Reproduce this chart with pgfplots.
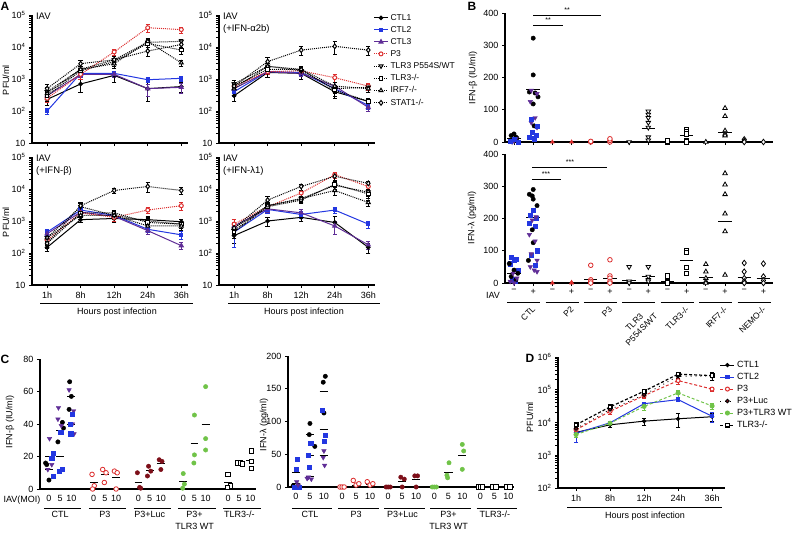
\documentclass[border=0pt]{standalone}
\usepackage{fontspec}
\setmainfont{Liberation Sans}
\setsansfont{Liberation Sans}
\usepackage{pgfplots}
\usepackage{pgfplotstable}
\pgfplotsset{compat=1.18}
\pgfkeys{/pgf/number format/assume math mode=true}

\definecolor{cblue}{RGB}{35,55,225}
\definecolor{cpurple}{RGB}{95,45,150}
\definecolor{cred}{RGB}{220,45,45}
\definecolor{cdred}{RGB}{125,15,25}
\definecolor{cgreen}{RGB}{112,195,72}

\newcommand{\fs}{\fontsize{9}{11}\selectfont}

\pgfplotsset{
  sCa/.style={black, line width=1pt, mark=*, mark size=1.8pt},
  sCb/.style={cblue, line width=1pt, mark=square*, mark size=1.7pt},
  sCc/.style={cpurple, line width=1pt, mark=triangle*, mark size=2.3pt},
  sP3/.style={cred, line width=1pt, densely dotted, mark=*, mark size=2pt, mark options={solid, fill=white}},
  sTP/.style={black, line width=1pt, densely dotted, mark=triangle*, mark size=2.3pt, mark options={solid, fill=white, rotate=180}},
  sTK/.style={black, line width=1pt, densely dotted, mark=square*, mark size=1.8pt, mark options={solid, fill=white}},
  sIR/.style={black, line width=1pt, densely dotted, mark=triangle*, mark size=2.3pt, mark options={solid, fill=white}},
  sST/.style={black, line width=1pt, densely dotted, mark=diamond*, mark size=2.4pt, mark options={solid, fill=white}},
  mBk/.style={only marks, black, mark=*, mark size=2.2pt},
  mBb/.style={only marks, cblue, mark=square*, mark size=2.1pt},
  mBp/.style={only marks, cpurple, mark=triangle*, mark size=2.6pt, mark options={rotate=180}},
  mRo/.style={only marks, cred, mark=*, mark size=2.3pt, mark options={fill=white, line width=0.8pt}},
  mRt/.style={only marks, cred, mark=triangle*, mark size=2.3pt},
  mTd/.style={only marks, black, mark=triangle*, mark size=2.6pt, mark options={fill=white, rotate=180, line width=0.8pt}},
  mSq/.style={only marks, black, mark=square*, mark size=2.2pt, mark options={fill=white, line width=0.8pt}},
  mTu/.style={only marks, black, mark=triangle*, mark size=2.6pt, mark options={fill=white, line width=0.8pt}},
  mDi/.style={only marks, black, mark=diamond*, mark size=2.8pt, mark options={fill=white, line width=0.8pt}},
  mDR/.style={only marks, cdred, mark=*, mark size=2.2pt},
  mG/.style={only marks, cgreen, mark=*, mark size=2.2pt},
  mean/.style={black, line width=0.8pt, no marks, unbounded coords=jump},
}

\pgfplotstableread{
x c1 e1 c2 e2 c3 e3 p3 ep tp etp tk etk ir eir st est
1 230 80 100 20 300 100 250 60 400 150 300 100 350 100 500 200
2 700 300 1500 300 1400 300 1400 400 2000 500 1800 400 2000 500 3000 800
3 1300 500 1500 300 1400 300 7000 1500 4000 1000 3500 1000 3000 800 4000 1000
4 500 300 950 150 500 200 40000 10000 14000 3000 13000 3000 15000 4000 7500 2500
5 580 200 1050 200 550 200 35000 8000 15000 3000 8000 2000 3200 600 12000 3000
}\tabAa
\pgfplotstableread{
x c1 e1 c2 e2 c3 e3 p3 ep tp etp tk etk ir eir st est
1 300 100 400 100 500 150 600 200 700 200 600 200 500 150 600 200
2 1600 500 1700 300 1700 300 1700 300 2500 700 2000 500 2500 600 3500 1200
3 1500 500 1600 300 1500 300 1800 400 1800 400 2000 500 2000 500 8000 2500
4 400 150 500 150 600 200 1100 300 500 150 450 150 600 200 10500 4500
5 200 60 150 40 130 30 600 150 550 150 200 60 500 100 8000 2500
}\tabAb
\pgfplotstableread{
x c1 e1 c2 e2 c3 e3 p3 ep tp etp tk etk ir eir st est
1 150 40 450 100 400 100 250 80 300 100 200 60 300 100 200 60
2 1100 200 2200 500 1900 400 1800 400 2800 900 1800 400 1500 400 3000 900
3 1200 300 1500 300 1400 300 1300 300 1500 400 1800 400 1500 400 9000 1500
4 1100 300 550 100 500 100 2200 500 1000 300 900 300 700 200 12000 4000
5 950 200 370 100 170 40 3000 800 800 200 800 200 700 200 9000 2000
}\tabAc
\pgfplotstableread{
x c1 e1 c2 e2 c3 e3 p3 ep tp etp tk etk ir eir st est
1 350 150 450 300 700 400 800 300 500 150 450 150 600 200 600 200
2 1000 300 2300 500 2400 500 2800 600 3000 800 2800 700 3000 800 4500 1500
3 1300 300 1600 400 1800 500 7500 2000 5000 1000 4500 1000 5000 1000 12000 2500
4 900 500 2200 500 700 300 28000 6000 13000 4000 14000 4000 9000 2500 25000 6000
5 150 50 800 200 180 50 12000 3000 8000 2000 7000 2000 3800 800 15000 3000
}\tabAd
\pgfplotstableread{
x c1 e1 c2 e2 p3 ep lu elu tw etw tk etk
1 5000 1000 4700 2200 6000 1000 6500 1200 4300 800 8500 1500
2 8500 1500 9800 1000 22000 4000 25000 5000 9500 1500 30000 6000
3 11000 2500 37500 5000 66000 10000 70000 10000 31000 8000 90000 15000
4 13000 6000 50000 6000 190000 40000 260000 40000 80000 20000 300000 40000
5 15000 4000 15500 5000 105000 15000 260000 60000 32000 6000 270000 80000
}\tabD

\newcommand{\Aplots}[1]{%
  \addplot[sCa, error bars/.cd, y dir=both, y explicit, error bar style={solid, line width=0.7pt}, error mark options={solid, rotate=90, mark size=2.2pt}] table[x=x,y=c1,y error=e1]{#1};
  \addplot[sCb, error bars/.cd, y dir=both, y explicit, error bar style={solid, line width=0.7pt}, error mark options={solid, rotate=90, mark size=2.2pt}] table[x=x,y=c2,y error=e2]{#1};
  \addplot[sCc, error bars/.cd, y dir=both, y explicit, error bar style={solid, line width=0.7pt}, error mark options={solid, rotate=90, mark size=2.2pt}] table[x=x,y=c3,y error=e3]{#1};
  \addplot[sP3, error bars/.cd, y dir=both, y explicit, error bar style={solid, line width=0.7pt}, error mark options={solid, rotate=90, mark size=2.2pt}] table[x=x,y=p3,y error=ep]{#1};
  \addplot[sTP, error bars/.cd, y dir=both, y explicit, error bar style={solid, line width=0.7pt}, error mark options={solid, rotate=90, mark size=2.2pt}] table[x=x,y=tp,y error=etp]{#1};
  \addplot[sTK, error bars/.cd, y dir=both, y explicit, error bar style={solid, line width=0.7pt}, error mark options={solid, rotate=90, mark size=2.2pt}] table[x=x,y=tk,y error=etk]{#1};
  \addplot[sIR, error bars/.cd, y dir=both, y explicit, error bar style={solid, line width=0.7pt}, error mark options={solid, rotate=90, mark size=2.2pt}] table[x=x,y=ir,y error=eir]{#1};
  \addplot[sST, error bars/.cd, y dir=both, y explicit, error bar style={solid, line width=0.7pt}, error mark options={solid, rotate=90, mark size=2.2pt}] table[x=x,y=st,y error=est]{#1};
}

\begin{document}
\begin{tikzpicture}
\useasboundingbox (0,0) rectangle (792pt,-533pt);

% ---------------- Panel A ----------------
\begin{axis}[at={(32pt,-15pt)}, anchor=north west, xticklabels={},
  scale only axis, axis lines*=left, tick align=outside, axis line style={line width=1.1pt},
  major tick length=3pt, tick style={black, line width=0.9pt}, tick label style={font=\fs}, clip=false,
  ymode=log, ymin=10, ymax=100000, xmin=0.55, xmax=5.2, width=156pt, height=128pt,
  xtick={1,2,3,4,5}, ytick={10,100,1000,10000,100000}, minor ytick={},
  yticklabels={10,10\textsuperscript{2},10\textsuperscript{3},10\textsuperscript{4},10\textsuperscript{5}}]
\Aplots{\tabAa}
\node[anchor=north west, align=left, inner sep=0pt, font=\fontsize{9.5}{12}\selectfont] at (rel axis cs:0.025,1.02) {IAV};
\end{axis}

\begin{axis}[at={(219pt,-15pt)}, anchor=north west, xticklabels={},
  scale only axis, axis lines*=left, tick align=outside, axis line style={line width=1.1pt},
  major tick length=3pt, tick style={black, line width=0.9pt}, tick label style={font=\fs}, clip=false,
  ymode=log, ymin=10, ymax=100000, xmin=0.55, xmax=5.2, width=156pt, height=128pt,
  xtick={1,2,3,4,5}, ytick={10,100,1000,10000,100000}, minor ytick={},
  yticklabels={10,10\textsuperscript{2},10\textsuperscript{3},10\textsuperscript{4},10\textsuperscript{5}},
  legend style={at={(0.97,1.04)}, anchor=north west, draw=none, fill=none,
    font=\fontsize{8.5}{10}\selectfont, row sep=0.6pt},
  legend cell align=left,
  legend image code/.code={\draw[mark repeat=2,mark phase=2,#1] plot coordinates {(0pt,0pt) (7pt,0pt) (14pt,0pt)};}]
\Aplots{\tabAb}
\legend{CTL1,CTL2,CTL3,P3,TLR3 P554S/WT,TLR3-/-,IRF7-/-,STAT1-/-}
\node[anchor=north west, align=left, inner sep=0pt, font=\fontsize{9.5}{12}\selectfont] at (rel axis cs:0.025,1.02) {IAV\\(+IFN-α2b)};
\end{axis}

\begin{axis}[at={(32pt,-157pt)}, anchor=north west, xticklabels={1h,8h,12h,24h,36h},
  scale only axis, axis lines*=left, tick align=outside, axis line style={line width=1.1pt},
  major tick length=3pt, tick style={black, line width=0.9pt}, tick label style={font=\fs}, clip=false,
  ymode=log, ymin=10, ymax=100000, xmin=0.55, xmax=5.2, width=156pt, height=128pt,
  xtick={1,2,3,4,5}, ytick={10,100,1000,10000,100000}, minor ytick={},
  yticklabels={10,10\textsuperscript{2},10\textsuperscript{3},10\textsuperscript{4},10\textsuperscript{5}}]
\Aplots{\tabAc}
\node[anchor=north west, align=left, inner sep=0pt, font=\fontsize{9.5}{12}\selectfont] at (rel axis cs:0.025,1.02) {IAV\\(+IFN-β)};
\end{axis}

\begin{axis}[at={(219pt,-157pt)}, anchor=north west, xticklabels={1h,8h,12h,24h,36h},
  scale only axis, axis lines*=left, tick align=outside, axis line style={line width=1.1pt},
  major tick length=3pt, tick style={black, line width=0.9pt}, tick label style={font=\fs}, clip=false,
  ymode=log, ymin=10, ymax=100000, xmin=0.55, xmax=5.2, width=156pt, height=128pt,
  xtick={1,2,3,4,5}, ytick={10,100,1000,10000,100000}, minor ytick={},
  yticklabels={10,10\textsuperscript{2},10\textsuperscript{3},10\textsuperscript{4},10\textsuperscript{5}}]
\Aplots{\tabAd}
\node[anchor=north west, align=left, inner sep=0pt, font=\fontsize{9.5}{12}\selectfont] at (rel axis cs:0.025,1.02) {IAV\\(+IFN-λ1)};
\end{axis}

% ---------------- Panel B ----------------
\begin{axis}[at={(505pt,-13pt)}, anchor=north west, width=268pt, height=129pt,
  scale only axis, axis lines*=left, tick align=outside, axis line style={line width=1.1pt},
  major tick length=3pt, tick style={black, line width=0.9pt}, tick label style={font=\fs}, clip=false,
  xmin=0.53, xmax=14.5, ymin=0, ymax=400, xtick={1,...,14}, xticklabels={},
  ytick={0,100,200,300,400}]
\addplot[mBk] coordinates {(0.85,20) (1.0,25) (1.15,12) (0.9,5) (1.1,15)
  (2.0,322) (2.0,208) (1.8,155) (2.1,152) (2.25,140) (2.0,118) (2.05,50)};
\addplot[mBp] coordinates {(0.9,0) (1.1,10) (1.0,3)
  (1.9,160) (2.2,150) (1.85,125) (2.1,75) (1.9,60) (2.2,45)};
\addplot[mBb] coordinates {(0.8,3) (1.0,8) (1.2,0)
  (1.9,70) (2.2,50) (1.95,30) (2.15,20) (1.8,15) (2.05,10)};
\addplot[mRt] coordinates {(3,0) (4,0)};
\addplot[mRo] coordinates {(5,0) (5,2) (6,0) (6,5) (6,10)};
\addplot[mTd] coordinates {(7,0) (8,95) (8,85) (8,75) (8,60) (8,45) (8,15) (8,5)};
\addplot[mSq] coordinates {(9,0) (9,3) (10,40) (10,32) (10,25) (10,5) (10,0)};
\addplot[mTu] coordinates {(11,0) (12,105) (12,80) (12,35) (12,25) (12,20)};
\addplot[mDi] coordinates {(13,8) (13,3) (13,0) (14,0)};
\addplot[mean] coordinates {(0.65,10) (1.35,10) (1.5,nan) (1.65,163) (2.35,163) (2.5,nan)
  (5.65,3) (6.35,3) (6.5,nan) (7.65,43) (8.35,43) (8.5,nan) (9.65,22) (10.35,22) (10.5,nan)
  (11.65,30) (12.35,30) (12.5,nan) (12.65,3) (13.35,3)};
\end{axis}

\begin{axis}[at={(505pt,-154pt)}, anchor=north west, width=268pt, height=129pt,
  scale only axis, axis lines*=left, tick align=outside, axis line style={line width=1.1pt},
  major tick length=3pt, tick style={black, line width=0.9pt}, tick label style={font=\fs}, clip=false,
  xmin=0.53, xmax=14.5, ymin=0, ymax=400, xtick={1,...,14},
  xticklabels={−,+,−,+,−,+,−,+,−,+,−,+,−,+},
  ytick={0,100,200,300,400}]
\addplot[mBb] coordinates {(0.85,80) (1.1,75) (1.0,70) (0.8,60) (1.2,40) (0.9,10) (1.05,5)
  (2.0,225) (1.85,210) (2.15,200) (1.8,185) (2.1,175) (2.2,100) (1.9,85) (2.1,55)};
\addplot[mBk] coordinates {(0.75,60) (1.0,40) (1.2,30) (0.85,20) (1.1,10)
  (2.0,290) (1.8,275) (1.95,270) (2.0,260) (2.2,240) (1.95,165) (2.0,125) (1.75,70)};
\addplot[mBp] coordinates {(0.95,30) (1.15,15) (0.8,5) (1.0,0)
  (2.15,205) (1.95,195) (1.8,150) (2.1,130) (1.9,90) (2.2,70) (1.85,50) (2.05,40) (2.2,35)};
\addplot[mRt] coordinates {(3,0) (4,0) (4,2)};
\addplot[mRo] coordinates {(5,55) (5,10) (5,5) (5,0) (6,72) (6,22) (6,15) (6,5) (6,0)};
\addplot[mTd] coordinates {(7,50) (7,5) (7,0) (8,50) (8,20) (8,10) (8,5)};
\addplot[mSq] coordinates {(9,22) (9,5) (9,0) (10,100) (10,95) (10,48) (10,30)};
\addplot[mTu] coordinates {(11,58) (11,35) (11,15) (11,5) (11,0)
  (12,340) (12,305) (12,275) (12,215) (12,160) (12,25)};
\addplot[mDi] coordinates {(13,62) (13,35) (13,15) (13,5) (13,0) (14,60) (14,20) (14,8) (14,0)};
\addplot[mean] coordinates {(0.65,30) (1.35,30) (1.5,nan) (1.65,203) (2.35,203) (2.5,nan)
  (3.65,1) (4.35,1) (4.5,nan) (4.65,10) (5.35,10) (5.5,nan) (5.65,15) (6.35,15) (6.5,nan)
  (6.65,8) (7.35,8) (7.5,nan) (7.65,20) (8.35,20) (8.5,nan) (8.65,5) (9.35,5) (9.5,nan)
  (9.65,70) (10.35,70) (10.5,nan) (10.65,17) (11.35,17) (11.5,nan) (11.65,192) (12.35,192) (12.5,nan)
  (12.65,17) (13.35,17) (13.5,nan) (13.65,15) (14.35,15)};
\end{axis}

% ---------------- Panel C (left) ----------------
\begin{axis}[at={(40pt,-359pt)}, anchor=north west, width=216pt, height=130pt,
  scale only axis, axis lines*=left, tick align=outside, axis line style={line width=1.1pt},
  major tick length=3pt, tick style={black, line width=0.9pt}, tick label style={font=\fs}, clip=false,
  xmin=-0.8, xmax=18.5, ymin=0, ymax=80, ytick={0,20,40,60,80},
  xtick={0,1,2,4,5,6,8,9,10,12,13,14,16,17,18},
  xticklabels={0,5,10,0,5,10,0,5,10,0,5,10,0,5,10},
  x tick style={draw=none}]
\addplot[mBk] coordinates {(-0.2,15) (-0.3,16) (0,5.5) (1.2,41) (1.3,37.5) (0.8,29) (1.85,66) (2.0,57) (1.8,49)};
\addplot[mBp] coordinates {(0.05,31) (0.25,15) (-0.1,12) (0.85,50) (0.8,43) (1.1,39) (1.8,61) (2.2,48) (2.1,40) (2.25,34)};
\addplot[mBb] coordinates {(0.25,19) (0.4,22) (0.35,8) (1.05,35) (1.15,12) (0.9,11) (2.1,46) (1.9,40) (1.95,34)};
\addplot[mRo] coordinates {(3.85,9) (4.05,2) (3.9,0) (4.8,12) (5.1,10) (4.95,4) (5.85,11) (6.1,10) (6,0)};
\addplot[mDR] coordinates {(7.9,10) (8.1,1) (8.2,0.5) (8.9,14) (9.1,11) (8.8,8) (9.85,18) (10.1,17) (10,12)};
\addplot[mG] coordinates {(12,9.5) (12.1,3) (11.95,0.5) (13,45.5) (13,21) (12.95,16) (14,63) (14,31) (14,24)};
\addplot[mSq] coordinates {(16,9) (16.2,2) (15.95,1) (16.9,16) (17.1,16) (17.3,15.5) (18.1,23.5) (18.1,17) (18.1,12.5)};
\addplot[mean] coordinates {(-0.35,12) (0.35,12) (0.5,nan) (-0.35,20) (0.35,20) (0.5,nan)
  (0.65,20) (1.35,20) (1.5,nan) (0.65,36) (1.35,36) (1.5,nan) (1.65,40) (2.35,40) (2.5,nan) (1.65,57) (2.35,57) (2.5,nan)
  (3.65,4) (4.35,4) (4.5,nan) (4.65,9) (5.35,9) (5.5,nan) (5.65,7) (6.35,7) (6.5,nan)
  (7.65,4) (8.35,4) (8.5,nan) (8.65,11.5) (9.35,11.5) (9.5,nan) (9.65,16) (10.35,16) (10.5,nan)
  (11.65,4.5) (12.35,4.5) (12.5,nan) (12.65,28) (13.35,28) (13.5,nan) (13.65,39.5) (14.35,39.5) (14.5,nan)
  (15.65,4) (16.35,4) (16.5,nan) (16.65,16) (17.35,16) (17.5,nan) (17.65,17.5) (18.35,17.5)};
\end{axis}

% ---------------- Panel C (right) ----------------
\begin{axis}[at={(288pt,-356pt)}, anchor=north west, width=226pt, height=131pt,
  scale only axis, axis lines*=left, tick align=outside, axis line style={line width=1.1pt},
  major tick length=3pt, tick style={black, line width=0.9pt}, tick label style={font=\fs}, clip=false,
  xmin=-0.57, xmax=15.6, ymin=0, ymax=200, ytick={0,50,100,150,200},
  xtick={0,1,2,3.3,4.3,5.3,6.6,7.6,8.6,9.9,10.9,11.9,13.2,14.2,15.2},
  xticklabels={0,5,10,0,5,10,0,5,10,0,5,10,0,5,10},
  x tick style={draw=none}]
\addplot[mBk] coordinates {(-0.2,2) (-0.1,0) (0.15,3) (1.0,97) (0.95,80) (1.35,62) (2.1,169) (1.95,160) (2.0,113)};
\addplot[mBb] coordinates {(0.1,42) (0.0,27) (0.2,0) (-0.1,0) (1.05,67) (0.85,49) (0.95,30) (1.85,117) (2.1,79) (2.0,70)};
\addplot[mBp] coordinates {(0.05,8) (0.15,3) (0.9,15) (1.1,12) (0.8,13) (2.0,55) (1.95,45) (2.05,33)};
\addplot[mRo] coordinates {(3.15,0) (3.3,0) (3.45,0) (4.1,10) (4.3,3) (4.5,5) (5.1,8) (5.3,3) (5.5,5)};
\addplot[mDR] coordinates {(6.45,0) (6.6,0) (6.75,0) (7.5,15) (7.75,12) (7.6,0) (8.5,17) (8.7,17) (8.6,0)};
\addplot[mG] coordinates {(9.75,0) (9.9,0) (10.05,0) (10.95,37) (10.8,18) (10.85,14) (11.9,65) (12.0,55) (11.9,27)};
\addplot[mSq] coordinates {(13.05,0) (13.2,0) (13.35,0) (14.1,0) (14.3,0) (15.1,0) (15.3,0)};
\addplot[mean] coordinates {(-0.3,22) (0.3,22) (0.5,nan) (-0.3,5) (0.3,5) (0.5,nan)
  (0.7,80) (1.3,80) (1.5,nan) (0.7,49) (1.3,49) (1.5,nan) (0.7,16) (1.3,16) (1.5,nan)
  (1.7,146) (2.3,146) (2.5,nan) (1.7,88) (2.3,88) (2.5,nan) (1.7,48) (2.3,48) (2.5,nan)
  (4.0,3) (4.6,3) (4.8,nan) (5.0,4) (5.6,4) (5.8,nan)
  (7.3,8) (7.9,8) (8.1,nan) (8.3,12) (8.9,12) (9.1,nan)
  (10.6,23) (11.2,23) (11.4,nan) (11.6,49) (12.2,49)};
\end{axis}

% ---------------- Panel D ----------------
\begin{axis}[at={(558pt,-357pt)}, anchor=north west, width=167pt, height=131pt,
  scale only axis, axis lines*=left, tick align=outside, axis line style={line width=1.1pt},
  major tick length=3pt, tick style={black, line width=0.9pt}, tick label style={font=\fs}, clip=false,
  ymode=log, ymin=100, ymax=1000000, xmin=0.47, xmax=5.38, minor ytick={},
  xtick={1,2,3,4,5}, xticklabels={1h,8h,12h,24h,36h},
  ytick={100,1000,10000,100000,1000000},
  yticklabels={10\textsuperscript{2},10\textsuperscript{3},10\textsuperscript{4},10\textsuperscript{5},10\textsuperscript{6}},
  legend style={at={(0.95,1.0)}, anchor=north west, draw=none, fill=none,
    font=\fontsize{9}{10}\selectfont, row sep=0.2pt},
  legend cell align=left,
  legend image code/.code={\draw[mark repeat=2,mark phase=2,#1] plot coordinates {(0pt,0pt) (7pt,0pt) (14pt,0pt)};}]
\addplot[sCa, mark size=1.6pt, error bars/.cd, y dir=both, y explicit, error bar style={solid, line width=0.7pt}, error mark options={solid, rotate=90, mark size=2.2pt}] table[x=x,y=c1,y error=e1]{\tabD};
\addplot[sCb, error bars/.cd, y dir=both, y explicit, error bar style={solid, line width=0.7pt}, error mark options={solid, rotate=90, mark size=2.2pt}] table[x=x,y=c2,y error=e2]{\tabD};
\addplot[cred, line width=1pt, densely dashed, mark=*, mark size=2pt, mark options={solid, fill=white}, error bars/.cd, y dir=both, y explicit, error bar style={solid, line width=0.7pt}, error mark options={solid, rotate=90, mark size=2.2pt}] table[x=x,y=p3,y error=ep]{\tabD};
\addplot[black, line width=0.9pt, loosely dotted, mark=*, mark size=1.8pt, mark options={solid, fill=cdred}, error bars/.cd, y dir=both, y explicit, error bar style={solid, line width=0.7pt}, error mark options={solid, rotate=90, mark size=2.2pt}] table[x=x,y=lu,y error=elu]{\tabD};
\addplot[cgreen, line width=1pt, densely dashed, mark=*, mark size=2pt, mark options={solid}, error bars/.cd, y dir=both, y explicit, error bar style={solid, line width=0.7pt}, error mark options={solid, rotate=90, mark size=2.2pt}] table[x=x,y=tw,y error=etw]{\tabD};
\addplot[black, line width=1.2pt, densely dashed, mark=square*, mark size=1.9pt, mark options={solid, fill=white}, error bars/.cd, y dir=both, y explicit, error bar style={solid, line width=0.7pt}, error mark options={solid, rotate=90, mark size=2.2pt}] table[x=x,y=tk,y error=etk]{\tabD};
\legend{CTL1,CTL2,P3,P3+Luc,P3+TLR3 WT,TLR3-/-}
\end{axis}

% ---------------- annotations ----------------
\begin{scope}[font=\fs]
\node[font=\bfseries\fontsize{12}{12}\selectfont] at (5pt,-6pt) {A};
\node[font=\bfseries\fontsize{12}{12}\selectfont] at (472pt,-6pt) {B};
\node[font=\bfseries\fontsize{12}{12}\selectfont] at (5pt,-359pt) {C};
\node[font=\bfseries\fontsize{12}{12}\selectfont] at (530pt,-358pt) {D};
% A
\node[rotate=90] at (6pt,-80pt) {PFU/ml};
\node[rotate=90] at (6pt,-222pt) {PFU/ml};
\draw[line width=0.7pt] (40pt,-303pt) -- (193pt,-303pt);
\draw[line width=0.7pt] (228pt,-303pt) -- (380pt,-303pt);
\node[anchor=north] at (117pt,-304pt) {Hours post infection};
\node[anchor=north] at (304pt,-304pt) {Hours post infection};
% B
\node[rotate=90] at (473pt,-78pt) {IFN-β (IU/ml)};
\node[rotate=90] at (472pt,-218pt) {IFN-λ (pg/ml)};
\draw[line width=0.7pt] (533pt,-15pt) -- (601pt,-15pt);
\draw[line width=0.7pt] (533pt,-25pt) -- (563pt,-25pt);
\node[font=\fontsize{7}{7}\selectfont] at (567pt,-10pt) {**};
\node[font=\fontsize{7}{7}\selectfont] at (548pt,-20pt) {**};
\draw[line width=0.7pt] (532pt,-167pt) -- (607pt,-167pt);
\draw[line width=0.7pt] (532pt,-179pt) -- (561pt,-179pt);
\node[font=\fontsize{7}{7}\selectfont] at (570pt,-162pt) {***};
\node[font=\fontsize{7}{7}\selectfont] at (546pt,-174pt) {***};
\node at (493pt,-295pt) {IAV};
\foreach \k/\lab in {0/{CTL},1/{P2},2/{P3},3/{TLR3\\P554S/WT},4/{TLR3-/-},5/{IRF7-/-},6/{NEMO-/-}}{
  \pgfmathsetmacro{\cx}{514+(2*\k+0.5)*19.2}
  \draw[line width=0.7pt] (\cx pt-16.5pt,-302pt) -- (\cx pt+16.5pt,-302pt);
  \node[rotate=45, anchor=north east, align=center, inner sep=1pt, font=\fontsize{8.5}{10}\selectfont] at (\cx pt+8pt,-304pt) {\lab};
}
% C left
\node[rotate=90] at (10pt,-422pt) {IFN-β (IU/ml)};
\node at (22pt,-500pt) {IAV(MOI)};
\foreach \g/\lab in {0/{CTL},1/{P3},2/{P3+Luc},3/{P3+\\TLR3 WT},4/{TLR3-/-}}{
  \pgfmathsetmacro{\xa}{49+(\g*4-0.45)*11.2}
  \pgfmathsetmacro{\xb}{49+(\g*4+2.9)*11.2}
  \pgfmathsetmacro{\xc}{49+(\g*4+1)*11.2}
  \draw[line width=0.7pt] (\xa pt,-508pt) -- (\xb pt,-508pt);
  \node[anchor=north, align=center, inner sep=1pt, font=\fontsize{9}{12}\selectfont] at (\xc pt,-510pt) {\lab};
}
% C right
\node[rotate=90] at (264pt,-425pt) {IFN-λ (pg/ml)};
\foreach \g/\lab in {0/{CTL},1/{P3},2/{P3+Luc},3/{P3+\\TLR3 WT},4/{TLR3-/-}}{
  \pgfmathsetmacro{\xa}{296+(\g*3.3-0.3)*14}
  \pgfmathsetmacro{\xb}{296+(\g*3.3+2.6)*14}
  \pgfmathsetmacro{\xc}{296+(\g*3.3+1)*14}
  \draw[line width=0.7pt] (\xa pt,-508pt) -- (\xb pt,-508pt);
  \node[anchor=north, align=center, inner sep=1pt, font=\fontsize{9}{12}\selectfont] at (\xc pt,-510pt) {\lab};
}
% D
\node[rotate=90] at (530pt,-417pt) {PFU/ml};
\draw[line width=0.7pt] (567pt,-507pt) -- (722pt,-507pt);
\node[anchor=north] at (645pt,-508pt) {Hours post infection};
\end{scope}
\end{tikzpicture}
\end{document}
